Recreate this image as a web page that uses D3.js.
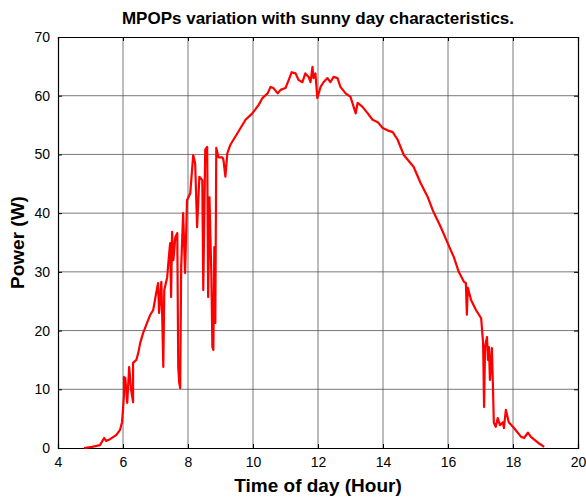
<!DOCTYPE html>
<html>
<head>
<meta charset="utf-8">
<script src="https://cdn.jsdelivr.net/npm/d3@7"></script>
<style>
  body { margin: 0; background: #fff; }
  text { font-family: "Liberation Sans", Arial, sans-serif; }
  .grid line { stroke: #555; stroke-width: 0.8; }
</style>
</head>
<body>
<div id="chart"></div>
<script>
// time of day (hour) and power (W)
const hours = [4.80, 5.05, 5.29, 5.42, 5.48, 5.60, 5.79, 5.91, 5.97, 6.00, 6.03, 6.03, 6.07, 6.13, 6.19, 6.25, 6.31, 6.31,
  6.41, 6.47, 6.53, 6.62, 6.74, 6.84, 6.93, 7.05, 7.08, 7.11, 7.18, 7.21, 7.24, 7.27, 7.36, 7.39, 7.45, 7.48, 7.51,
  7.55, 7.61, 7.67, 7.70, 7.73, 7.76, 7.79, 7.85, 7.91, 7.97, 8.07, 8.16, 8.22, 8.28, 8.35, 8.44, 8.47, 8.53, 8.59,
  8.62, 8.66, 8.72, 8.75, 8.78, 8.81, 8.84, 8.87, 8.94, 9.06, 9.09, 9.15, 9.21, 9.30, 9.52, 9.77, 9.98, 10.17, 10.29,
  10.45, 10.54, 10.63, 10.76, 10.85, 11.00, 11.10, 11.19, 11.31, 11.40, 11.52, 11.61, 11.71, 11.77, 11.83, 11.86,
  11.92, 11.98, 12.08, 12.17, 12.29, 12.38, 12.48, 12.60, 12.69, 12.85, 13.00, 13.16, 13.22, 13.37, 13.53, 13.68,
  13.84, 13.99, 14.14, 14.30, 14.45, 14.64, 14.85, 14.94, 15.16, 15.38, 15.53, 15.78, 15.99, 16.18, 16.33, 16.49,
  16.55, 16.58, 16.61, 16.71, 16.86, 17.02, 17.08, 17.11, 17.14, 17.20, 17.23, 17.26, 17.29, 17.35, 17.38, 17.41,
  17.47, 17.53, 17.60, 17.69, 17.72, 17.78, 17.87, 18.03, 18.25, 18.34, 18.46, 18.55, 18.77, 18.96];
const power = [0, 0.2, 0.5, 1.7, 1.2, 1.5, 2.2, 3.1, 4.4, 6.5, 9.0, 12.1, 11.9, 7.7, 13.8, 9.9, 7.8, 14.5,
  15.0, 16.2, 17.9, 19.6, 21.3, 22.7, 23.5, 27.3, 28.1, 23.0, 28.3, 21.5, 13.8, 26.9, 29.1, 31.2, 34.9, 25.7, 36.8,
  32.0, 35.9, 36.6, 13.8, 11.1, 10.2, 30.8, 40.0, 29.8, 42.2, 43.4, 49.9, 48.5, 37.6, 46.2, 45.6, 26.9, 50.8, 51.3,
  25.7, 42.7, 29.1, 17.2, 16.7, 34.2, 21.3, 51.1, 49.5, 49.5, 49.1, 46.2, 50.2, 51.6, 53.6, 55.9, 57.0, 58.4, 59.6,
  60.4, 61.5, 61.3, 60.4, 61.0, 61.3, 62.7, 64.0, 63.8, 62.7, 62.3, 63.8, 63.2, 62.3, 64.9, 63.0,
  63.8, 59.6, 61.5, 62.3, 63.0, 62.3, 63.2, 63.0, 61.5, 60.4, 59.8, 57.0, 58.8, 58.1, 57.0, 55.9,
  55.5, 54.5, 54.1, 53.8, 52.5, 49.9, 48.5, 47.9, 45.1, 42.7, 40.5, 37.6, 34.9, 32.5, 30.0, 28.3,
  28.1, 22.7, 27.3, 25.2, 23.5, 22.1, 17.9, 7.0, 17.2, 18.9, 15.0, 17.2, 11.6, 17.0, 11.1, 4.3,
  3.6, 5.1, 3.9, 4.4, 3.4, 6.5, 4.4, 3.4, 1.9, 1.7, 2.6, 1.9, 0.9, 0.2];

const xTicks = [4, 6, 8, 10, 12, 14, 16, 18, 20];
const yTicks = [0, 10, 20, 30, 40, 50, 60, 70];

const W = 586, H = 498;
const margin = { top: 37, right: 8, bottom: 50, left: 58 };
const iw = W - margin.left - margin.right;
const ih = H - margin.top - margin.bottom;

const svg = d3.select("#chart").append("svg")
  .attr("width", W).attr("height", H);

const g = svg.append("g").attr("transform", `translate(${margin.left},${margin.top})`);

const x = d3.scaleLinear().domain([4, 20]).range([0, iw]);
const y = d3.scaleLinear().domain([0, 70]).range([ih, 0]);

// grid
g.append("g").attr("class", "grid")
  .selectAll("line").data(xTicks.slice(1, -1)).enter().append("line")
  .attr("x1", d => x(d)).attr("x2", d => x(d)).attr("y1", 0).attr("y2", ih);
g.append("g").attr("class", "grid")
  .selectAll("line").data(yTicks.slice(1, -1)).enter().append("line")
  .attr("y1", d => y(d)).attr("y2", d => y(d)).attr("x1", 0).attr("x2", iw);

// axes, ticks inward like matlab
g.append("g").attr("transform", `translate(0,${ih})`)
  .call(d3.axisBottom(x).tickValues(xTicks).tickSize(-4).tickPadding(9));
g.append("g")
  .call(d3.axisLeft(y).tickValues(yTicks).tickSize(-4).tickPadding(8));
g.append("g").call(d3.axisTop(x).tickValues(xTicks).tickSize(-4).tickFormat(""));
g.append("g").attr("transform", `translate(${iw},0)`)
  .call(d3.axisRight(y).tickValues(yTicks).tickSize(-4).tickFormat(""));

g.selectAll(".domain").attr("stroke", "#000").attr("stroke-width", 1.2);
g.selectAll(".tick line").attr("stroke", "#000");
g.selectAll(".tick text").attr("font-size", 14).attr("fill", "#000")
  .style("font-family", "'Liberation Sans', Arial, sans-serif");

// power line
const pts = hours.map((h, i) => [h, power[i]]);
g.append("path")
  .datum(pts)
  .attr("fill", "none")
  .attr("stroke", "#ff0000")
  .attr("stroke-width", 2.2)
  .attr("stroke-linejoin", "round")
  .attr("d", d3.line().x(d => x(d[0])).y(d => y(d[1])));

// labels
svg.append("text")
  .attr("x", margin.left + iw / 2).attr("y", 24)
  .attr("text-anchor", "middle")
  .attr("font-size", 17).attr("font-weight", "bold")
  .text("MPOPs variation with sunny day characteristics.");

svg.append("text")
  .attr("x", margin.left + iw / 2).attr("y", 492)
  .attr("text-anchor", "middle")
  .attr("font-size", 19).attr("font-weight", "bold")
  .text("Time of day (Hour)");

svg.append("text")
  .attr("transform", `translate(24,${margin.top + ih / 2}) rotate(-90)`)
  .attr("text-anchor", "middle")
  .attr("font-size", 19).attr("font-weight", "bold")
  .text("Power (W)");
</script>
</body>
</html>
